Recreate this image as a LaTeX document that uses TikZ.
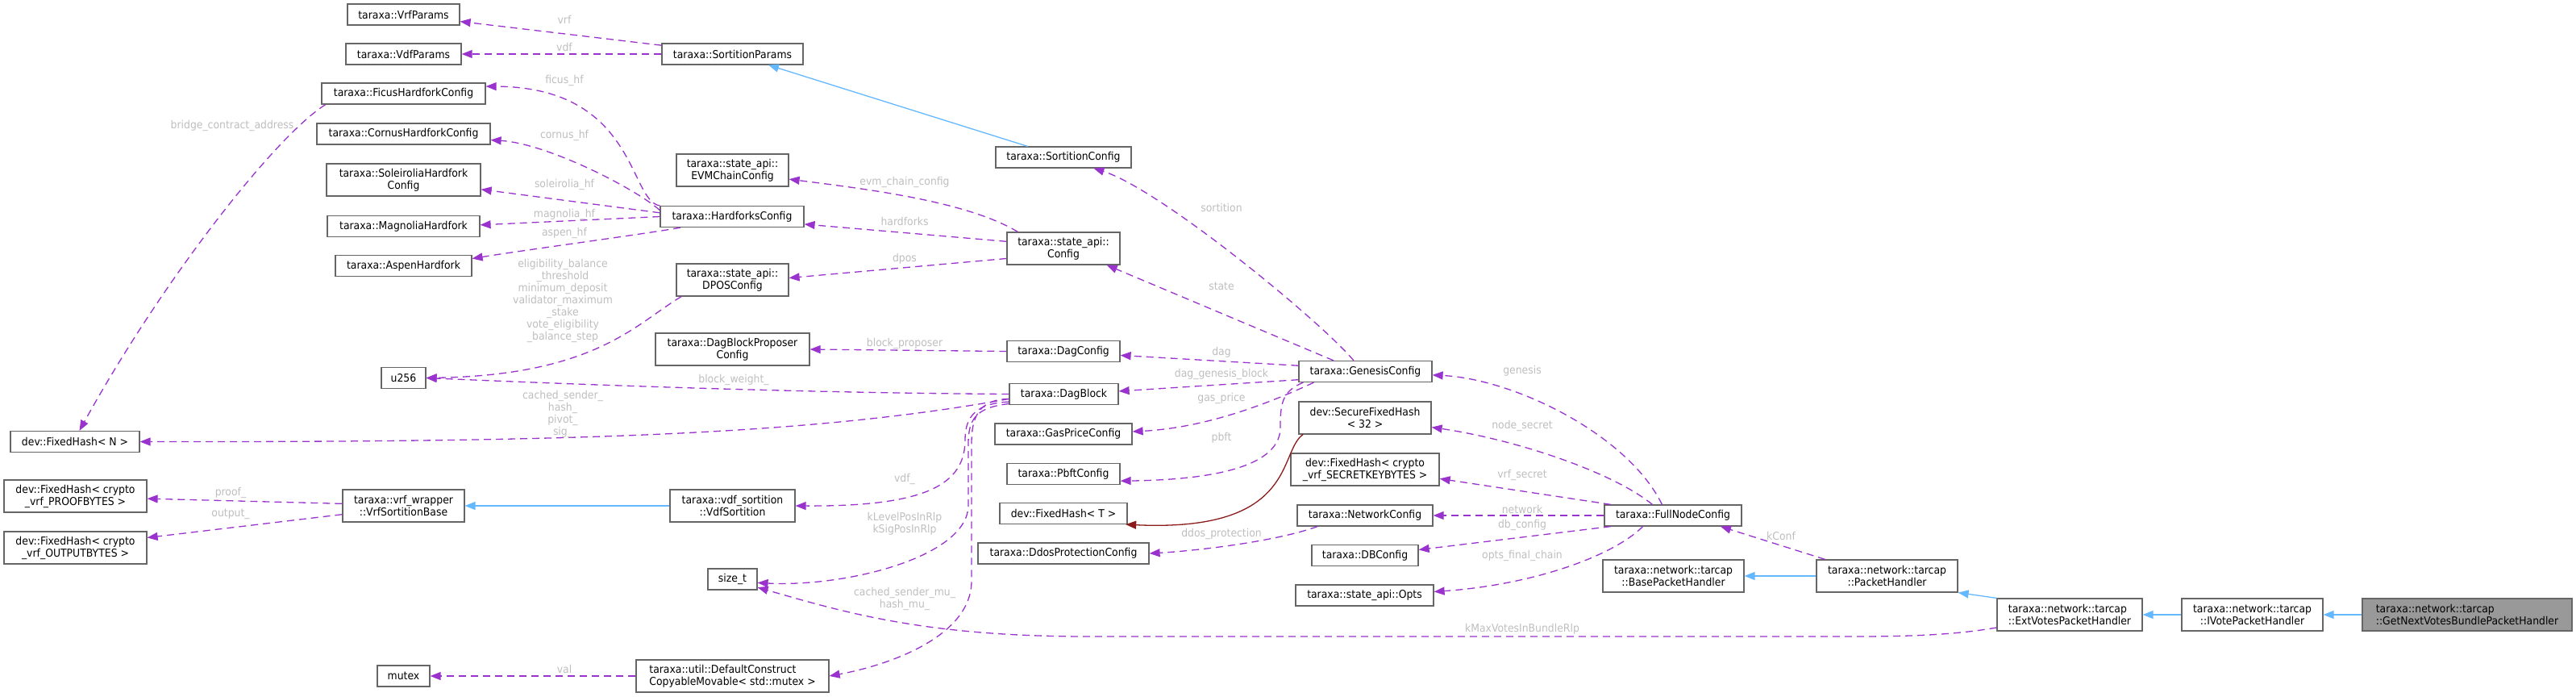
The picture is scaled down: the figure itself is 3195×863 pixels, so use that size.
\documentclass[tikz,border=0pt]{standalone}
\usepackage{fontspec}
\setmainfont{DejaVu Sans}[FakeStretch=0.92]
\usetikzlibrary{arrows.meta}
\definecolor{depcol}{HTML}{9A32CD}
\definecolor{inhcol}{HTML}{63B8FF}
\definecolor{tplcol}{HTML}{8B1A1A}
\definecolor{lblcol}{HTML}{BEBEBE}
\definecolor{boxcol}{HTML}{666666}
\definecolor{hlcol}{HTML}{999999}
\begin{document}
\begin{tikzpicture}[x=1pt,y=-1pt,font=\fontsize{13.5}{15}\selectfont,
	cls/.style={draw=boxcol,fill=white,line width=1.2pt,minimum height=26pt,inner xsep=2pt,inner ysep=1pt,align=center},
	cls2/.style={cls,minimum height=40pt},
	dep/.style={draw=depcol,line width=1.3pt,dash pattern=on 9pt off 6pt,-{Triangle[length=13pt,width=10pt]}},
	inh/.style={draw=inhcol,line width=1.3pt,-{Triangle[length=13pt,width=10pt]}},
	tpl/.style={draw=tplcol,line width=1.3pt,-{Triangle[length=13pt,width=10pt]}},
	lbl/.style={text=lblcol,inner sep=0pt,align=center}]
	\useasboundingbox (0,0) rectangle (3195,863);
	%%%%%%%% classes, left columns
	\node[cls,minimum width=139] (vrfp) at (500.5,18) {taraxa::VrfParams};
	\node[cls,minimum width=143] (vdfp) at (500.5,67) {taraxa::VdfParams};
	\node[cls,minimum width=203] (ficus) at (500.5,116) {taraxa::FicusHardforkConfig};
	\node[cls,minimum width=215] (cornus) at (500.5,166) {taraxa::CornusHardforkConfig};
	\node[cls2,minimum width=191] (soleir) at (500.5,223) {taraxa::SoleiroliaHardfork\\Config};
	\node[cls,minimum width=189] (magnolia) at (500.5,280.5) {taraxa::MagnoliaHardfork};
	\node[cls,minimum width=169] (aspen) at (500.5,329.5) {taraxa::AspenHardfork};
	\node[cls,minimum width=55] (u256) at (500.5,468.5) {u256};
	\node[cls,minimum width=160] (fhN) at (93,547.5) {dev::FixedHash< N >};
	\node[cls2,minimum width=177] (fhproof) at (93.5,615) {dev::FixedHash< crypto\\\_vrf\_PROOFBYTES >};
	\node[cls2,minimum width=177] (fhout) at (93.5,679) {dev::FixedHash< crypto\\\_vrf\_OUTPUTBYTES >};
	\node[cls2,minimum width=151] (vrfbase) at (500.5,627) {taraxa::vrf\_wrapper\\::VrfSortitionBase};
	\node[cls,minimum width=65] (mutex) at (500.5,838) {mutex};
	\node[cls,minimum width=175] (sortp) at (908.5,67) {taraxa::SortitionParams};
	\node[cls2,minimum width=139] (evm) at (908.5,211) {taraxa::state\_api::\\EVMChainConfig};
	\node[cls,minimum width=178] (hardforks) at (908,268.5) {taraxa::HardforksConfig};
	\node[cls2,minimum width=139] (dpos) at (908.5,347) {taraxa::state\_api::\\DPOSConfig};
	\node[cls2,minimum width=191] (dagprop) at (908.5,433) {taraxa::DagBlockProposer\\Config};
	\node[cls2,minimum width=155] (vdfsort) at (908.5,627) {taraxa::vdf\_sortition\\::VdfSortition};
	\node[cls,minimum width=61] (sizet) at (908.5,718) {size\_t};
	\node[cls2,minimum width=239,align=left] (defcon) at (908.5,838) {taraxa::util::DefaultConstruct\\CopyableMovable< std::mutex >};
	%%%%%%%% classes, middle
	\node[cls,minimum width=168] (sortc) at (1319,195) {taraxa::SortitionConfig};
	\node[cls2,minimum width=140] (stcfg) at (1319,308) {taraxa::state\_api::\\Config};
	\node[cls,minimum width=140] (dagcfg) at (1319,435.5) {taraxa::DagConfig};
	\node[cls,minimum width=135] (dagblock) at (1319.5,488.5) {taraxa::DagBlock};
	\node[cls,minimum width=170] (gasprice) at (1319,538) {taraxa::GasPriceConfig};
	\node[cls,minimum width=140] (pbft) at (1319,587.5) {taraxa::PbftConfig};
	\node[cls,minimum width=158] (fhT) at (1319,636.5) {dev::FixedHash< T >};
	\node[cls,minimum width=212] (ddos) at (1319,686) {taraxa::DdosProtectionConfig};
	\node[cls,minimum width=165] (genesis) at (1693.5,460.5) {taraxa::GenesisConfig};
	\node[cls2,minimum width=164] (secure) at (1693,518) {dev::SecureFixedHash\\< 32 >};
	\node[cls2,minimum width=184] (fhsecret) at (1693,582) {dev::FixedHash< crypto\\\_vrf\_SECRETKEYBYTES >};
	\node[cls,minimum width=168] (netcfg) at (1693,639) {taraxa::NetworkConfig};
	\node[cls,minimum width=132] (dbcfg) at (1693,688.5) {taraxa::DBConfig};
	\node[cls,minimum width=171] (opts) at (1692.5,738) {taraxa::state\_api::Opts};
	%%%%%%%% classes, right
	\node[cls,minimum width=170] (fullnode) at (2075,639) {taraxa::FullNodeConfig};
	\node[cls2,minimum width=175] (basepkt) at (2075.5,714) {taraxa::network::tarcap\\::BasePacketHandler};
	\node[cls2,minimum width=175] (pkt) at (2340.5,714) {taraxa::network::tarcap\\::PacketHandler};
	\node[cls2,minimum width=180,align=left] (extvotes) at (2567,762) {taraxa::network::tarcap\\::ExtVotesPacketHandler};
	\node[cls2,minimum width=175] (ivote) at (2793.5,762) {taraxa::network::tarcap\\::IVotePacketHandler};
	\node[cls2,minimum width=260,align=left,fill=hlcol] (getnext) at (3060,762) {taraxa::network::tarcap\\::GetNextVotesBundlePacketHandler};
	%%%%%%%% inheritance
	\draw[inh] (sortc.163) -- (sortp.-17);
	\draw[inh] (vdfsort.west) -- (vrfbase.east);
	\draw[inh] (pkt.west) -- (basepkt.east);
	\draw[inh] (extvotes.north west) -- (pkt.south east);
	\draw[inh] (ivote.west) -- (extvotes.east);
	\draw[inh] (getnext.west) -- (ivote.east);
	\draw[tpl] (secure.-165) .. controls (1585,560) and (1610,660) .. (fhT.-10);
	%%%%%%%% members
	\draw[dep] (sortp.173) -- (vrfp.-7);
	\draw[dep] (sortp.west) -- (vdfp.east);
	\draw[dep] (hardforks.north west) .. controls (780,250) and (790,108) .. (ficus.5);
	\draw[dep] (hardforks.175) .. controls (790,235) and (680,178) .. (cornus.-4);
	\draw[dep] (hardforks.177) -- (soleir.-7);
	\draw[dep] (hardforks.west) -- (magnolia.1);
	\draw[dep] (hardforks.-168) .. controls (800,290) and (650,310) .. (aspen.6);
	\draw[dep] (ficus.188) .. controls (340,170) and (200,350) .. (fhN.68);
	\draw[dep] (stcfg.160) .. controls (1200,250) and (1080,235) .. (evm.-9);
	\draw[dep] (stcfg.173) -- (hardforks.-6);
	\draw[dep] (stcfg.190) -- (dpos.2);
	\draw[dep] (dpos.-162) .. controls (790,400) and (740,465) .. (u256.east);
	\draw[dep] (dagblock.west) .. controls (1000,487) and (750,478) .. (u256.east);
	\draw[dep] (dagblock.185) .. controls (1000,540) and (700,548) .. (fhN.east);
	\draw[dep] (dagcfg.west) -- (dagprop.east);
	\draw[dep] (dagblock.-172) .. controls (1212,500) and (1197,515) .. (1197,545) .. controls (1197,600) and (1150,628) .. (vdfsort.east);
	\draw[dep] (dagblock.-170) .. controls (1210,505) and (1201,520) .. (1201,550) -- (1201,627) .. controls (1200,690) and (1050,728) .. (sizet.-8);
	\draw[dep] (dagblock.-175) .. controls (1212,495) and (1205,520) .. (1205,550) -- (1205,720) .. controls (1205,790) and (1100,825) .. (defcon.east);
	\draw[dep] (vrfbase.178) -- (fhproof.-2);
	\draw[dep] (vrfbase.-172) -- (fhout.8);
	\draw[dep] (defcon.west) -- (mutex.east);
	\draw[dep] (genesis.137) .. controls (1640,400) and (1440,235) .. (sortc.-20);
	\draw[dep] (genesis.161) -- (stcfg.-21);
	\draw[dep] (genesis.175) -- (dagcfg.-4);
	\draw[dep] (genesis.-173) -- (dagblock.3);
	\draw[dep] (genesis.-168) .. controls (1580,497) and (1500,530) .. (gasprice.2);
	\draw[dep] (genesis.-170) .. controls (1590,485) and (1588,500) .. (1588,530) .. controls (1588,585) and (1480,595) .. (pbft.-7);
	\draw[dep] (netcfg.-167) .. controls (1580,672) and (1480,683) .. (ddos.east);
	\draw[dep] (fullnode.135) .. controls (2020,540) and (1880,470) .. (genesis.-3);
	\draw[dep] (fullnode.152) .. controls (2000,585) and (1880,545) .. (secure.-8);
	\draw[dep] (fullnode.170) -- (fhsecret.-7);
	\draw[dep] (fullnode.west) -- (netcfg.east);
	\draw[dep] (fullnode.190) -- (dbcfg.6);
	\draw[dep] (fullnode.200) .. controls (2000,690) and (1900,725) .. (opts.3);
	\draw[dep] (pkt.165) -- (fullnode.-13);
	\draw[dep] (extvotes.190) .. controls (2430,786) and (2380,789) .. (2300,789) -- (1350,789) .. controls (1150,789) and (1050,760) .. (sizet.-18);
	%%%%%%%% member names
	\node[lbl] (l-vrf) at (700,24) {vrf};
	\node[lbl] (l-vdf) at (700,58) {vdf};
	\node[lbl] (l-ficus) at (700,100) {ficus\_hf};
	\node[lbl] (l-cornus) at (700,168) {cornus\_hf};
	\node[lbl] (l-soleir) at (700,229) {soleirolia\_hf};
	\node[lbl] (l-magnolia) at (700,266) {magnolia\_hf};
	\node[lbl] (l-aspen) at (700,289) {aspen\_hf};
	\node[lbl] (l-bridge) at (288,156) {bridge\_contract\_address};
	\node[lbl] (l-dposu) at (698,372.5) {eligibility\_balance\\\_threshold\\minimum\_deposit\\validator\_maximum\\\_stake\\vote\_eligibility\\\_balance\_step};
	\node[lbl] (l-hashes) at (698,513) {cached\_sender\_\\hash\_\\pivot\_\\sig\_};
	\node[lbl] (l-proof) at (286,611) {proof\_};
	\node[lbl] (l-output) at (286,637) {output\_};
	\node[lbl] (l-val) at (700,829) {val};
	\node[lbl] (l-evm) at (1122,226) {evm\_chain\_config};
	\node[lbl] (l-hardforks) at (1122,274) {hardforks};
	\node[lbl] (l-dpos) at (1122,321) {dpos};
	\node[lbl] (l-proposer) at (1122,426) {block\_proposer};
	\node[lbl] (l-weight) at (910,471) {block\_weight\_};
	\node[lbl] (l-vdfs) at (1122,594) {vdf\_};
	\node[lbl] (l-pos) at (1122,649.5) {kLevelPosInRlp\\kSigPosInRlp};
	\node[lbl] (l-mu) at (1122,742.5) {cached\_sender\_mu\_\\hash\_mu\_};
	\node[lbl] (l-sortition) at (1515,257) {sortition};
	\node[lbl] (l-state) at (1515,355) {state};
	\node[lbl] (l-dag) at (1515,437) {dag};
	\node[lbl] (l-genblock) at (1515,464) {dag\_genesis\_block};
	\node[lbl] (l-gas) at (1515,494) {gas\_price};
	\node[lbl] (l-pbft) at (1515,543) {pbft};
	\node[lbl] (l-ddos) at (1515,662) {ddos\_protection};
	\node[lbl] (l-genesis) at (1888,460) {genesis};
	\node[lbl] (l-secret) at (1888,528) {node\_secret};
	\node[lbl] (l-vrfsecret) at (1888,589) {vrf\_secret};
	\node[lbl] (l-network) at (1888,631) {network};
	\node[lbl] (l-db) at (1888,651) {db\_config};
	\node[lbl] (l-opts) at (1888,689) {opts\_final\_chain};
	\node[lbl] (l-kconf) at (2209,664) {kConf};
	\node[lbl] (l-kmax) at (1888,780) {kMaxVotesInBundleRlp};
\end{tikzpicture}
\end{document}
